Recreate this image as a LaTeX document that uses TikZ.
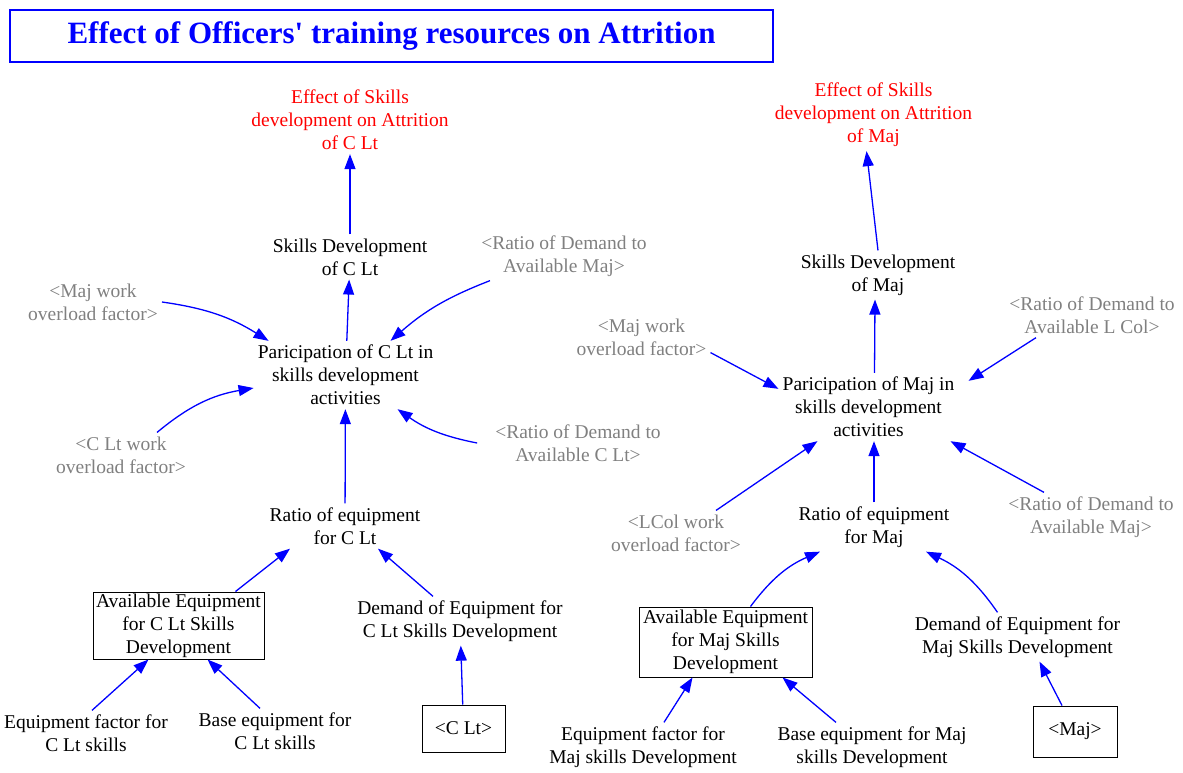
\documentclass[tikz,border=0pt]{standalone}
\usepackage{fontspec}
\setmainfont{Liberation Serif}
\usetikzlibrary{arrows.meta}
\definecolor{linkblue}{RGB}{0,0,255}
\definecolor{shadowgray}{RGB}{128,128,128}
\definecolor{outred}{RGB}{255,0,0}
\tikzset{
  lbl/.style={align=center, font=\fontsize{19.5}{23}\selectfont, inner sep=4pt},
  shadow/.style={lbl, text=shadowgray},
  outvar/.style={lbl, text=outred},
  level/.style={lbl, draw=black, line width=1pt, inner sep=0pt},
  link/.style={draw=linkblue, line width=1.3pt, -{Triangle[length=15pt,width=11pt]}},
  titlebox/.style={draw=linkblue, line width=2pt, text=linkblue, inner sep=0pt,
    font=\fontsize{31}{36}\selectfont\bfseries}
}
\begin{document}
\begin{tikzpicture}[x=1pt,y=-1pt]
\useasboundingbox (0,0) rectangle (1183,772);

% heading
\node[titlebox, minimum width=763, minimum height=52] (title) at (391.5,36)
  {Effect of Officers\textquotesingle{} training resources on Attrition};

% ---- C Lt structure ----
\node[outvar] (effC) at (350,120) {Effect of Skills\\development on Attrition\\of C Lt};
\node[lbl] (sdC) at (350,257) {Skills Development\\of C Lt};
\node[lbl] (partC) at (345.5,375) {Paricipation of C Lt in\\skills development\\activities};
\node[shadow] (majwoC) at (93,302) {<Maj work\\overload factor>};
\node[shadow] (rdmC) at (564,256) {<Ratio of Demand to\\Available Maj>};
\node[shadow] (cltwo) at (121,455) {<C Lt work\\overload factor>};
\node[shadow] (rdcC) at (578,443) {<Ratio of Demand to\\Available C Lt>};
\node[lbl] (reC) at (345,526) {Ratio of equipment\\for C Lt};
\node[level, minimum width=171, minimum height=67] (aeC) at (178.5,625.5)
  {Available Equipment\\for C Lt Skills\\Development};
\node[lbl] (deC) at (460,621) {Demand of Equipment for\\C Lt Skills Development};
\node[lbl] (efC) at (86,733) {Equipment factor for\\C Lt skills};
\node[lbl] (beC) at (275,731) {Base equipment for\\C Lt skills};
\node[level, minimum width=83, minimum height=47] (clt) at (463.5,728.5) {<C Lt>};

% ---- Maj structure ----
\node[outvar] (effM) at (873.5,115) {Effect of Skills\\development on Attrition\\of Maj};
\node[lbl] (sdM) at (878,275) {Skills Development\\of Maj};
\node[lbl] (partM) at (868.5,407) {Paricipation of Maj in\\skills development\\activities};
\node[shadow] (majwoM) at (641.5,337) {<Maj work\\overload factor>};
\node[shadow] (rdlM) at (1092,315) {<Ratio of Demand to\\Available L Col>};
\node[shadow] (lcolwo) at (676,533) {<LCol work\\overload factor>};
\node[shadow] (rdmM) at (1091,517) {<Ratio of Demand to\\Available Maj>};
\node[lbl] (reM) at (874,527) {Ratio of equipment\\for Maj};
\node[level, minimum width=173, minimum height=70] (aeM) at (725.5,642)
  {Available Equipment\\for Maj Skills\\Development};
\node[lbl] (deM) at (1017.5,637) {Demand of Equipment for\\Maj Skills Development};
\node[lbl] (efM) at (643,747) {Equipment factor for\\Maj skills Development};
\node[lbl] (beM) at (872,747) {Base equipment for Maj\\skills Development};
\node[level, minimum width=84, minimum height=51] (maj) at (1075,731.5) {<Maj>};

% ---- C Lt links ----
\draw[link] (sdC) -- (effC);
\draw[link] (partC) -- (sdC);
\draw[link] (majwoC.east) to[bend left=12] ([xshift=15pt]partC.north west);
\draw[link] ([xshift=-74pt]rdmC.south) to[bend right=10] ([xshift=45pt]partC.north);
\draw[link] ([xshift=36pt]cltwo.north) to[bend left=15] ([yshift=-13pt]partC.west);
\draw[link] ([xshift=-14pt]rdcC.west) to[bend left=12] ([xshift=52pt]partC.south);
\draw[link] (reC) -- (partC);
\draw[link] ([xshift=57pt]aeC.north) -- ([xshift=-55pt]reC.south);
\draw[link] ([xshift=-27pt]deC.north) -- ([xshift=33pt]reC.south);
\draw[link] ([xshift=6pt]efC.north) -- ([xshift=-30pt]aeC.south);
\draw[link] ([xshift=-15pt]beC.north) -- ([xshift=29pt]aeC.south);
\draw[link] (clt) -- (deC);

% ---- Maj links ----
\draw[link] (sdM.north) -- ([xshift=-7pt]effM.south);
\draw[link] ([xshift=6pt]partM.north) -- ([xshift=-3pt]sdM.south);
\draw[link] ([yshift=7pt]majwoM.south east) -- ([yshift=-16pt]partM.north west);
\draw[link] ([xshift=-56pt]rdlM.south) -- ([xshift=10pt,yshift=-8pt]partM.north east);
\draw[link] ([xshift=40pt]lcolwo.north) -- ([xshift=-51pt]partM.south);
\draw[link] (reM.north) -- ([xshift=5.5pt]partM.south);
\draw[link] ([xshift=-47pt]rdmM.north) -- ([xshift=82pt]partM.south);
\draw[link] ([xshift=25pt]aeM.north) to[bend left=15] ([xshift=-54pt]reM.south);
\draw[link] ([xshift=-20pt]deM.north) to[bend right=15] ([xshift=52pt]reM.south);
\draw[link] ([xshift=21pt]efM.north) -- ([xshift=-33pt]aeM.south);
\draw[link] ([xshift=-36pt]beM.north) -- ([xshift=57pt]aeM.south);
\draw[link] ([xshift=-13pt]maj.north) -- ([xshift=22pt]deM.south);
\end{tikzpicture}
\end{document}
